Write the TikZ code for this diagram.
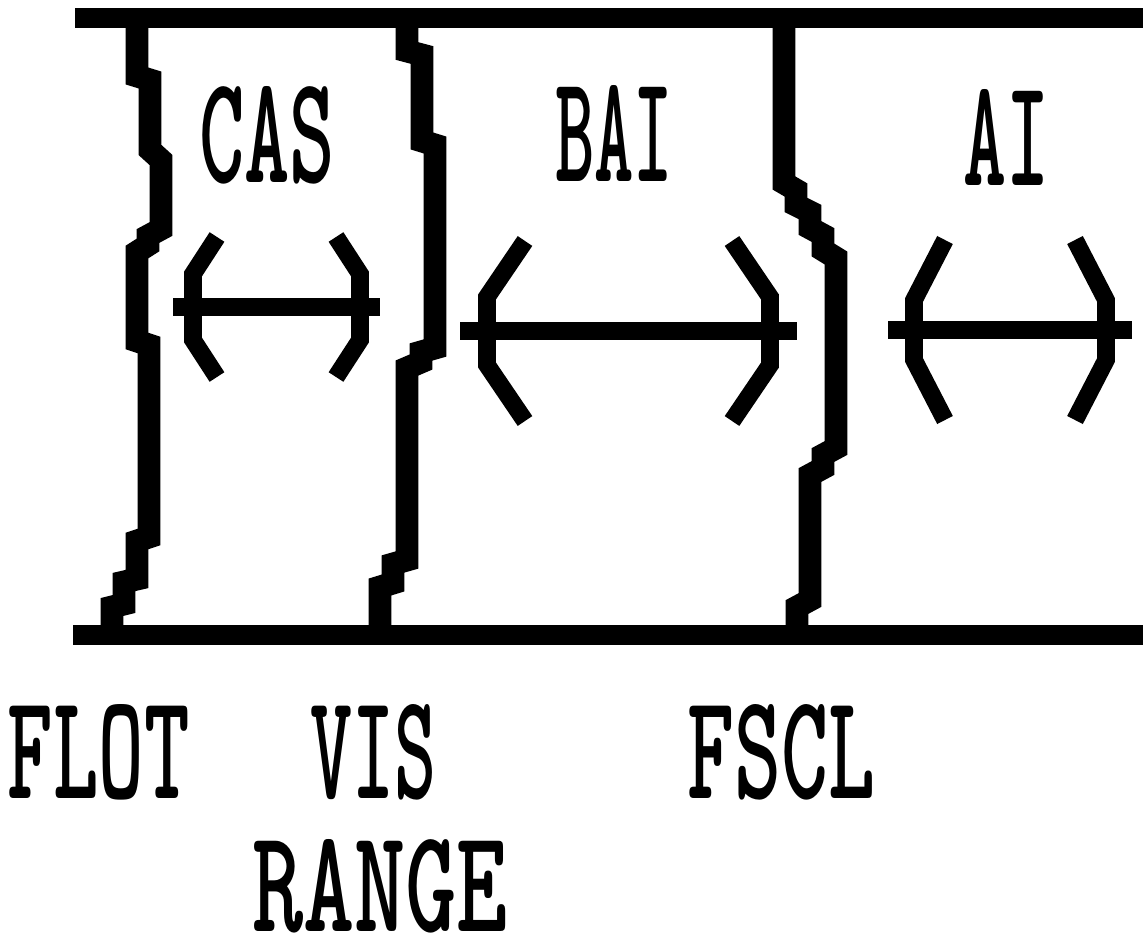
\documentclass[tikz,border=0pt]{standalone}
\usepackage{fontspec}
\usepackage{graphicx}
\newlength{\px}\setlength{\px}{0.02cm}
\newcommand{\squeeze}[3][97]{\resizebox{#2\px}{#1\px}{#3}}

\begin{document}
\begin{tikzpicture}[x=0.02cm,y=-0.02cm,line join=miter]
  \tikzstyle{rail}=[line width=11pt]
  \tikzstyle{front}=[line width=13pt]
  \tikzstyle{shaft}=[line width=10pt]
  \tikzstyle{chev}=[line width=10pt]
  \tikzstyle{tag}=[inner sep=0pt,font=\ttfamily\bfseries]
  \useasboundingbox (0,0) rectangle (1143,943);

  %--- rails ---
  \coordinate (top-l) at (75,18);
  \coordinate (top-r) at (1143,18);
  \coordinate (bot-l) at (73,635);
  \coordinate (bot-r) at (1143,635);
  \draw[rail] (top-l) -- (top-r);
  \draw[rail] (bot-l) -- (bot-r);

  %--- fronts (stepped) ---
  \draw[front] (137,18) -- (137,76) -- (150,80) -- (150,150) -- (161,160) -- (161,229)
    -- (148,236) -- (148,245) -- (137,252) -- (137,341) -- (149,345) -- (149,537)
    -- (137,541) -- (137,579) -- (124,582) -- (124,604) -- (112,607) -- (112,635); % flot
  \draw[front] (407,18) -- (407,51) -- (422,55) -- (422,141) -- (435,145) -- (435,348)
    -- (421,352) -- (421,362) -- (407,368) -- (407,560) -- (393,564) -- (393,583)
    -- (380,587) -- (380,635); % vis
  \draw[front] (784,18) -- (784,183) -- (796,190) -- (796,205) -- (810,212) -- (810,228)
    -- (823,235) -- (823,250) -- (836,258) -- (836,448) -- (823,455) -- (823,468)
    -- (810,475) -- (810,600) -- (797,607) -- (797,635); % fscl

  %--- zone labels ---
  \node[tag] (cas) at (267,135) {\squeeze[96]{136}{CAS}};
  \node[tag] (bai) at (614,133) {\squeeze[96]{118}{BAI}};
  \node[tag] (ai)  at (1006,137) {\squeeze[96]{86}{AI}};

  %--- double arrows ---
  \foreach \nm/\xl/\xr/\ym/\ex/\ey/\ox/\oy in
      {cas/173/380/307/44/70/20/33, bai/460/797/331/65/90/27/34, ai/888/1132/330/57/90/26/30}{
    \coordinate (\nm-l) at (\xl,\ym);
    \coordinate (\nm-r) at (\xr,\ym);
    \draw[shaft] (\nm-l) -- (\nm-r);
    \draw[chev] ([shift={(\ex,-\ey)}]\nm-l) -- ([shift={(\ox,-\oy)}]\nm-l)
      -- ([shift={(\ox,\oy)}]\nm-l) -- ([shift={(\ex,\ey)}]\nm-l);
    \draw[chev] ([shift={(-\ex,-\ey)}]\nm-r) -- ([shift={(-\ox,-\oy)}]\nm-r)
      -- ([shift={(-\ox,\oy)}]\nm-r) -- ([shift={(-\ex,\ey)}]\nm-r);
  }

  %--- boundary names ---
  \node[tag] (flot)  at (99,752)  {\squeeze[94]{182}{FLOT}};
  \node[tag] (vis)   at (373,752) {\squeeze[94]{126}{VIS}};
  \node[tag] (range) at (380,886) {\squeeze[92]{256}{RANGE}};
  \node[tag] (fscl)  at (781,752) {\squeeze[94]{188}{FSCL}};
\end{tikzpicture}
\end{document}
